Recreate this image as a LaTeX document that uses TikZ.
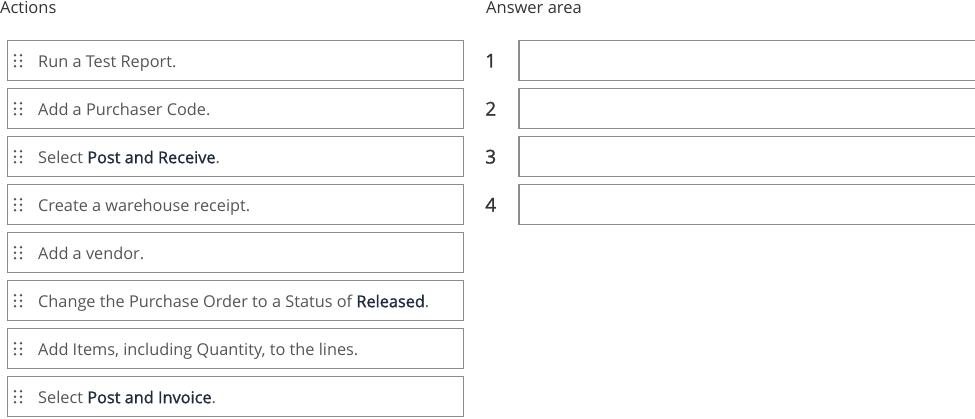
\documentclass[tikz,border=0pt]{standalone}
\usepackage{fontspec}
\setmainfont{Open Sans}
\newfontfamily\semifont[FakeBold=1.2]{Open Sans}
\usetikzlibrary{positioning}
\definecolor{boxline}{HTML}{8C8C8C}
\definecolor{txtgray}{HTML}{555555}
\definecolor{txtdark}{HTML}{1F2A3C}
\definecolor{headcol}{HTML}{333333}
\tikzset{
  action/.style={draw=boxline, line width=1.4pt, minimum width=456pt, minimum height=40pt, inner sep=0pt},
  slot/.style={draw=boxline, line width=1.4pt, minimum width=458pt, minimum height=40pt, inner sep=0pt},
  acttext/.style={text=txtgray, font=\fontsize{16.3pt}{18pt}\selectfont, inner sep=0pt},
  num/.style={text=headcol, font=\semifont\fontsize{19pt}{21pt}\selectfont, inner sep=0pt},
  header/.style={text=headcol, font=\fontsize{16.5pt}{18pt}\selectfont, inner sep=0pt, anchor=base west},
  gripdot/.style={fill=txtgray},
}
\newcommand{\hl}[1]{\textcolor{txtdark}{\semifont #1}}
\begin{document}
\begin{tikzpicture}
\useasboundingbox (0,0) rectangle (975pt,-418pt);
\node[header] (actions) at (0,-13pt) {Actions};
\node[header] (answer) at (486pt,-13pt) {Answer area};
% actions
\node[action, anchor=north west] (a1) at (7pt,-40pt) {};
\node[action, below=6.6pt of a1] (a2) {};
\node[action, below=6.6pt of a2] (a3) {};
\node[action, below=6.6pt of a3] (a4) {};
\node[action, below=6.6pt of a4] (a5) {};
\node[action, below=6.6pt of a5] (a6) {};
\node[action, below=6.6pt of a6] (a7) {};
\node[action, below=6.6pt of a7] (a8) {};
\node[acttext, right=31pt of a1.west, anchor=base west, yshift=-6.5pt] (t1) {Run a Test Report.};
\node[acttext, right=31pt of a2.west, anchor=base west, yshift=-6.5pt] (t2) {Add a Purchaser Code.};
\node[acttext, right=31pt of a3.west, anchor=base west, yshift=-6.5pt] (t3) {Select \hl{Post and Receive}.};
\node[acttext, right=31pt of a4.west, anchor=base west, yshift=-6.5pt] (t4) {Create a warehouse receipt.};
\node[acttext, right=31pt of a5.west, anchor=base west, yshift=-6.5pt] (t5) {Add a vendor.};
\node[acttext, right=31pt of a6.west, anchor=base west, yshift=-6.5pt] (t6) {Change the Purchase Order to a Status of \hl{Released}.};
\node[acttext, right=31pt of a7.west, anchor=base west, yshift=-6.5pt] (t7) {Add Items, including Quantity, to the lines.};
\node[acttext, right=31pt of a8.west, anchor=base west, yshift=-6.5pt] (t8) {Select \hl{Post and Invoice}.};
\foreach \i in {1,...,8}
  \foreach \dx in {8pt,14pt}
    \foreach \dy in {-5.5pt,0pt,5.5pt}
      \fill[gripdot] ([shift={(\dx,\dy)}]a\i.west) circle (1.35pt);
% answer area
\node[slot, right=54pt of a1] (s1) {};
\node[slot, right=54pt of a2] (s2) {};
\node[slot, right=54pt of a3] (s3) {};
\node[slot, right=54pt of a4] (s4) {};
\node[num, left=22pt of s1] (n1) {1};
\node[num, left=22pt of s2] (n2) {2};
\node[num, left=22pt of s3] (n3) {3};
\node[num, left=22pt of s4] (n4) {4};
\end{tikzpicture}
\end{document}
